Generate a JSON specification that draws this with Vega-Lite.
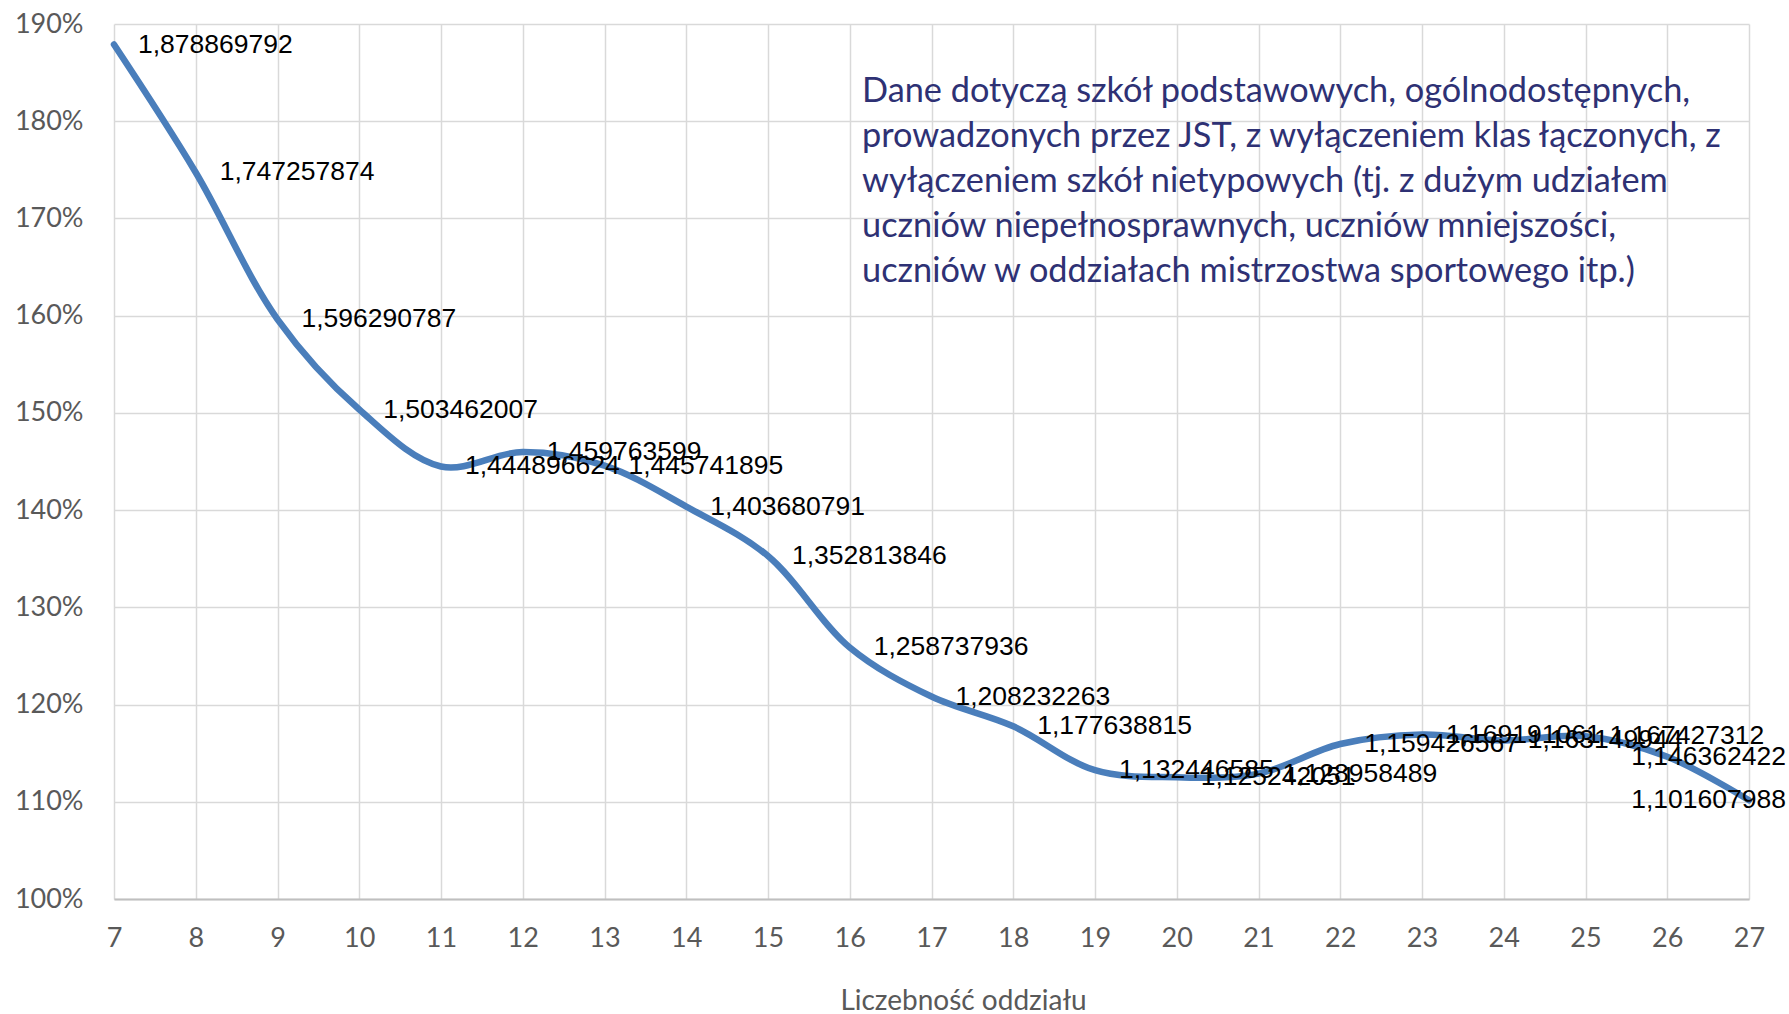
{
  "$schema": "https://vega.github.io/schema/vega-lite/v6.json",
  "autosize": {"type": "none"},
  "width": 1635,
  "height": 875,
  "padding": {"left": 114, "top": 24, "right": 40, "bottom": 115},
  "background": "white",
  "config": {
    "view": {"stroke": null},
    "locale": {"number": {"decimal": ",", "thousands": " ", "grouping": [3], "currency": ["", " zł"]}}
  },
  "data": {"values": [
    {"n": 7, "v": 1.878869792},
    {"n": 8, "v": 1.747257874},
    {"n": 9, "v": 1.596290787},
    {"n": 10, "v": 1.503462007},
    {"n": 11, "v": 1.444896624},
    {"n": 12, "v": 1.459763599},
    {"n": 13, "v": 1.445741895},
    {"n": 14, "v": 1.403680791},
    {"n": 15, "v": 1.352813846},
    {"n": 16, "v": 1.258737936},
    {"n": 17, "v": 1.208232263},
    {"n": 18, "v": 1.177638815},
    {"n": 19, "v": 1.132446585},
    {"n": 20, "v": 1.125242051},
    {"n": 21, "v": 1.128958489},
    {"n": 22, "v": 1.159426567},
    {"n": 23, "v": 1.169191061},
    {"n": 24, "v": 1.163149944},
    {"n": 25, "v": 1.167427312},
    {"n": 26, "v": 1.146362422},
    {"n": 27, "v": 1.101607988}
  ]},
  "layer": [
    {
      "mark": {"type": "line", "interpolate": "catmull-rom", "color": "#4A7EBB", "strokeWidth": 6.5, "strokeCap": "round", "clip": false},
      "encoding": {
        "x": {
          "field": "n", "type": "quantitative",
          "scale": {"domain": [7, 27], "nice": false, "zero": false},
          "axis": {
            "values": [7,8,9,10,11,12,13,14,15,16,17,18,19,20,21,22,23,24,25,26,27],
            "format": "d",
            "title": "Liczebność oddziału",
            "titleFont": "Lato", "titleFontSize": 28, "titleFontWeight": "normal", "titleColor": "#595959",
            "titlePadding": 36, "titleX": 849,
            "labelFont": "Lato", "labelFontSize": 27, "labelColor": "#595959", "labelPadding": 26,
            "labelFlush": false,
            "ticks": false,
            "domainColor": "#BFBFBF", "domainWidth": 2,
            "grid": true, "gridColor": "#D9D9D9", "gridWidth": 1.5
          }
        },
        "y": {
          "field": "v", "type": "quantitative",
          "scale": {"domain": [1.0, 1.9], "nice": false, "zero": false},
          "axis": {
            "values": [1.0,1.1,1.2,1.3,1.4,1.5,1.6,1.7,1.8,1.9],
            "format": ".0%",
            "title": null,
            "labelFont": "Lato", "labelFontSize": 27, "labelColor": "#595959", "labelPadding": 31,
            "labelFlush": false,
            "ticks": false, "domain": false,
            "grid": true, "gridColor": "#D9D9D9", "gridWidth": 1.5
          }
        }
      }
    },
    {
      "transform": [{"filter": "datum.n < 26"}],
      "mark": {"type": "text", "align": "left", "baseline": "middle", "dx": 24, "font": "Liberation Sans", "fontSize": 26.5, "color": "#000000"},
      "encoding": {
        "x": {"field": "n", "type": "quantitative"},
        "y": {"field": "v", "type": "quantitative"},
        "text": {"field": "v", "type": "quantitative", "format": ".9f"}
      }
    },
    {
      "transform": [{"filter": "datum.n >= 26"}],
      "mark": {"type": "text", "align": "right", "baseline": "middle", "dx": 37, "font": "Liberation Sans", "fontSize": 26.5, "color": "#000000"},
      "encoding": {
        "x": {"datum": 27, "type": "quantitative"},
        "y": {"field": "v", "type": "quantitative"},
        "text": {"field": "v", "type": "quantitative", "format": ".9f"}
      }
    },
    {
      "data": {"values": [{"note": "annotation"}]},
      "mark": {
        "type": "text", "align": "left", "baseline": "top",
        "font": "Lato", "fontSize": 34.3, "lineHeight": 45, "color": "#2E3174",
        "text": [
          "Dane dotyczą szkół podstawowych, ogólnodostępnych,",
          "prowadzonych przez JST, z wyłączeniem klas łączonych, z",
          "wyłączeniem szkół nietypowych (tj. z  dużym udziałem",
          "uczniów niepełnosprawnych, uczniów mniejszości,",
          "uczniów w oddziałach mistrzostwa sportowego itp.)"
        ]
      },
      "encoding": {
        "x": {"datum": 16.15, "type": "quantitative"},
        "y": {"datum": 1.848, "type": "quantitative"}
      }
    }
  ]
}
